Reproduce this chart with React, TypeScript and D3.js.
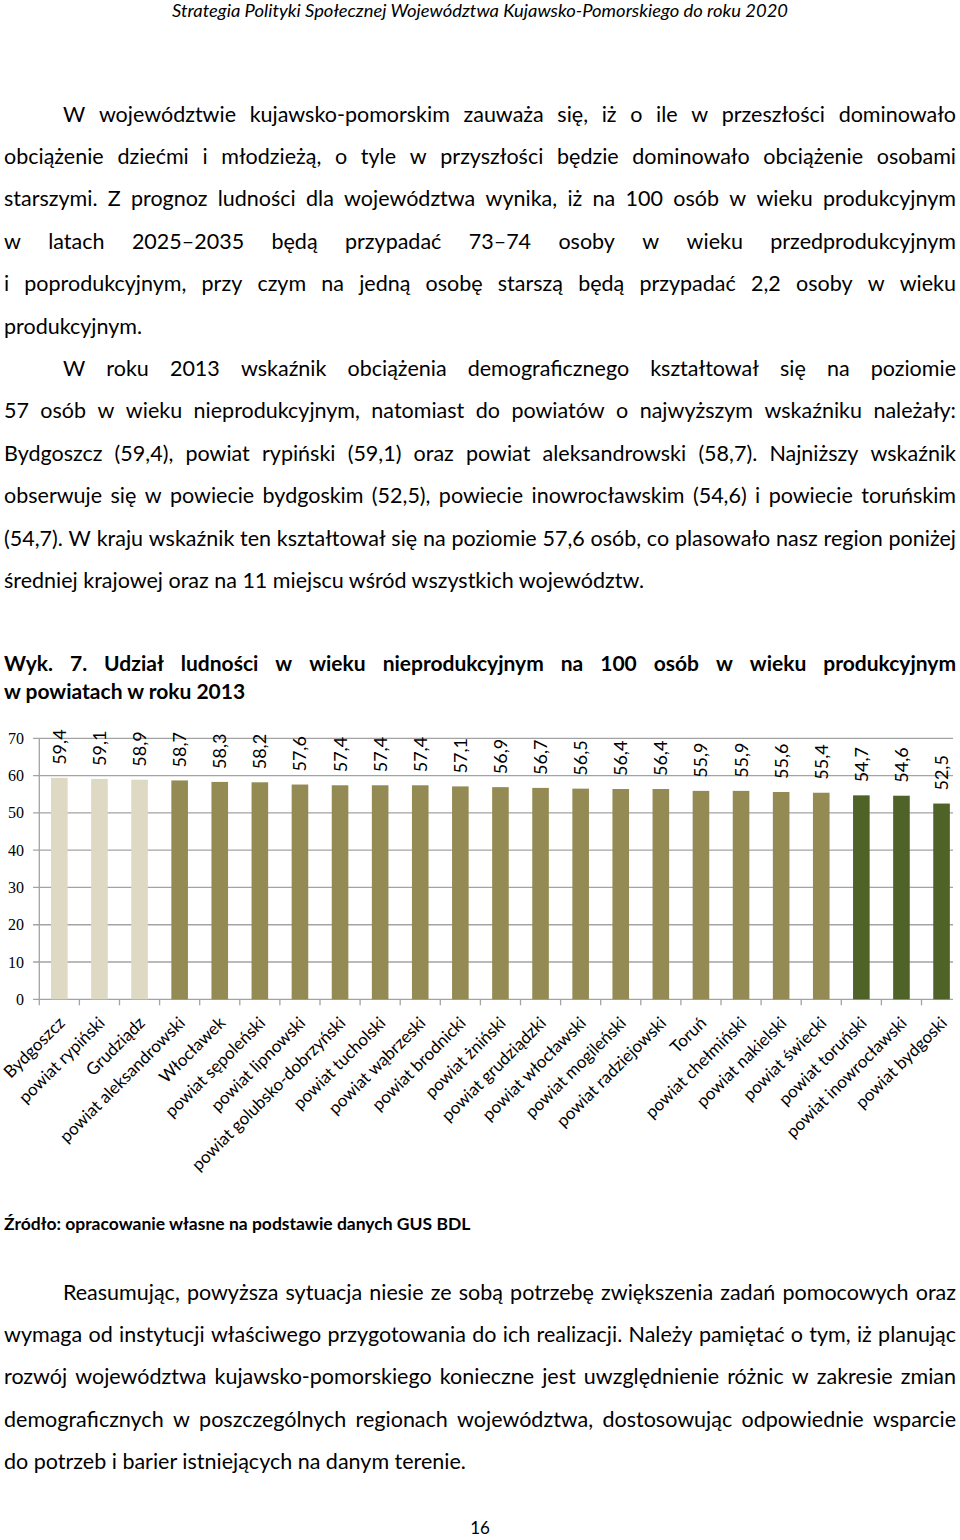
import React from 'react';
import * as d3 from 'd3';

const categories = [
  'Bydgoszcz', 'powiat rypiński', 'Grudziądz', 'powiat aleksandrowski', 'Włocławek',
  'powiat sępoleński', 'powiat lipnowski', 'powiat golubsko-dobrzyński', 'powiat tucholski',
  'powiat wąbrzeski', 'powiat brodnicki', 'powiat żniński', 'powiat grudziądzki',
  'powiat włocławski', 'powiat mogileński', 'powiat radziejowski', 'Toruń',
  'powiat chełmiński', 'powiat nakielski', 'powiat świecki', 'powiat toruński',
  'powiat inowrocławski', 'powiat bydgoski',
];
const values = [
  59.4, 59.1, 58.9, 58.7, 58.3, 58.2, 57.6, 57.4, 57.4, 57.4, 57.1, 56.9, 56.7,
  56.5, 56.4, 56.4, 55.9, 55.9, 55.6, 55.4, 54.7, 54.6, 52.5,
];
const groups = [
  'top', 'top', 'top', 'mid', 'mid', 'mid', 'mid', 'mid', 'mid', 'mid', 'mid', 'mid',
  'mid', 'mid', 'mid', 'mid', 'mid', 'mid', 'mid', 'mid', 'bottom', 'bottom', 'bottom',
];
const yTicks = [0, 10, 20, 30, 40, 50, 60, 70];

const headerText = 'Strategia Polityki Społecznej Województwa Kujawsko-Pomorskiego do roku 2020';
const para1 = [
  'W województwie kujawsko-pomorskim zauważa się, iż o ile w przeszłości dominowało',
  'obciążenie dziećmi i młodzieżą, o tyle w przyszłości będzie dominowało obciążenie osobami',
  'starszymi. Z prognoz ludności dla województwa wynika, iż na 100 osób w wieku produkcyjnym',
  'w latach 2025–2035 będą przypadać 73–74 osoby w wieku przedprodukcyjnym',
  'i poprodukcyjnym, przy czym na jedną osobę starszą będą przypadać 2,2 osoby w wieku',
  'produkcyjnym.',
];
const para2 = [
  'W roku 2013 wskaźnik obciążenia demograficznego kształtował się na poziomie',
  '57 osób w wieku nieprodukcyjnym, natomiast do powiatów o najwyższym wskaźniku należały:',
  'Bydgoszcz (59,4), powiat rypiński (59,1) oraz powiat aleksandrowski (58,7). Najniższy wskaźnik',
  'obserwuje się w powiecie bydgoskim (52,5), powiecie inowrocławskim (54,6) i powiecie toruńskim',
  '(54,7). W kraju wskaźnik ten kształtował się na poziomie 57,6 osób, co plasowało nasz region poniżej',
  'średniej krajowej oraz na 11 miejscu wśród wszystkich województw.',
];
const titleLines = [
  'Wyk. 7. Udział ludności w wieku nieprodukcyjnym na 100 osób w wieku produkcyjnym',
  'w powiatach w roku 2013',
];
const sourceText = 'Źródło: opracowanie własne na podstawie danych GUS BDL';
const para3 = [
  'Reasumując, powyższa sytuacja niesie ze sobą potrzebę zwiększenia zadań pomocowych oraz',
  'wymaga od instytucji właściwego przygotowania do ich realizacji. Należy pamiętać o tym, iż planując',
  'rozwój województwa kujawsko-pomorskiego konieczne jest uwzględnienie różnic w zakresie zmian',
  'demograficznych w poszczególnych regionach województwa, dostosowując odpowiednie wsparcie',
  'do potrzeb i barier istniejących na danym terenie.',
];
const pageNumber = '16';

const groupColors: Record<string, string> = {
  top: '#ddd9c3',
  mid: '#948a54',
  bottom: '#4f6228',
};

const FONT = 'Lato';
let measureCtx: CanvasRenderingContext2D | null = null;
function measure(text: string, size: number, weight: string) {
  if (!measureCtx) measureCtx = document.createElement('canvas').getContext('2d');
  measureCtx!.font = `${weight} ${size}px ${FONT}`;
  return measureCtx!.measureText(text).width;
}

function Line({ text, x0, x1, y, size, weight = 'normal', justify }: {
  text: string; x0: number; x1: number; y: number; size: number; weight?: string; justify: boolean;
}) {
  if (!justify) {
    return (
      <text x={x0} y={y} fontFamily={FONT} fontSize={size} fontWeight={weight} fill="#000">
        {text}
      </text>
    );
  }
  const words = text.split(' ');
  const widths = words.map((w) => measure(w, size, weight));
  const total = widths.reduce((a, b) => a + b, 0);
  const gap = (x1 - x0 - total) / Math.max(1, words.length - 1);
  let cur = x0;
  const xs = widths.map((w) => {
    const p = cur;
    cur += w + gap;
    return p;
  });
  return (
    <text y={y} fontFamily={FONT} fontSize={size} fontWeight={weight} fill="#000">
      {words.map((w, i) => (
        <tspan key={i} x={xs[i]}>{w + (i < words.length - 1 ? ' ' : '')}</tspan>
      ))}
    </text>
  );
}

function Paragraph({ lines, y0, step, size, weight = 'normal', indent = 63, lastJustified = false }: {
  lines: string[]; y0: number; step: number; size: number; weight?: string; indent?: number; lastJustified?: boolean;
}) {
  return (
    <g>
      {lines.map((t, i) => (
        <Line
          key={i}
          text={t}
          x0={i === 0 ? indent : 4}
          x1={956}
          y={y0 + i * step}
          size={size}
          weight={weight}
          justify={i < lines.length - 1 || lastJustified}
        />
      ))}
    </g>
  );
}

function Chart() {
  const left = 39.3;
  const step = 40.1;
  const gridRight = 953;
  const x = d3.scaleBand<string>()
    .domain(categories)
    .range([left, left + step * categories.length])
    .paddingInner(0.586)
    .paddingOuter(0.293);
  const y = d3.scaleLinear().domain([0, 70]).range([999.3, 738.3]);
  const bw = x.bandwidth();
  const boundaries = d3.range(categories.length + 1).map((k) => left + x.step() * k);
  const fmt = (v: number) => d3.format('.1f')(v).replace('.', ',');
  return (
    <g>
      {yTicks.map((t) => (
        <g key={t}>
          <line x1={33} x2={gridRight} y1={y(t)} y2={y(t)} stroke="#a3a3a3" strokeWidth={1.3} />
          <text x={24} y={y(t)} dy="0.35em" textAnchor="end" fontFamily="Liberation Serif" fontSize={16} fill="#000">
            {t}
          </text>
        </g>
      ))}
      <line x1={left} x2={left} y1={y(70)} y2={y(0)} stroke="#a3a3a3" strokeWidth={1.3} />
      {boundaries.filter((b) => b <= 958).map((b, i) => (
        <line key={i} x1={b} x2={b} y1={y(0)} y2={y(0) + 6} stroke="#a3a3a3" strokeWidth={1.3} />
      ))}
      {categories.map((c, i) => (
        <rect key={c} x={x(c)} y={y(values[i])} width={bw} height={y(0) - y(values[i])} fill={groupColors[groups[i]]} />
      ))}
      {categories.map((c, i) => {
        const cx = (x(c) as number) + bw / 2;
        return (
          <text
            key={'v' + c}
            transform={`translate(${cx + 6.5},${y(values[i]) - 13}) rotate(-90)`}
            fontFamily={FONT}
            fontSize={18}
            fill="#000"
          >
            {fmt(values[i])}
          </text>
        );
      })}
      {categories.map((c) => {
        const cx = (x(c) as number) + bw / 2;
        return (
          <text
            key={'l' + c}
            transform={`translate(${cx + 6.5},${1024}) rotate(-45)`}
            textAnchor="end"
            fontFamily={FONT}
            fontSize={17}
            fill="#000"
          >
            {c}
          </text>
        );
      })}
    </g>
  );
}

export default function App() {
  return (
    <svg
      width={960}
      height={1540}
      viewBox="0 0 960 1540"
      style={{ position: 'absolute', left: 0, top: 0, background: '#fff' }}
    >
      <rect x={0} y={0} width={960} height={1540} fill="#fff" />
      <text
        x={480}
        y={17}
        textAnchor="middle"
        fontFamily={FONT}
        fontStyle="italic"
        fontSize={16.5}
        textLength={616}
        lengthAdjust="spacingAndGlyphs"
        fill="#000"
      >
        {headerText}
      </text>
      <Paragraph lines={para1} y0={121.5} step={42.4} size={21.5} />
      <Paragraph lines={para2} y0={375.9} step={42.4} size={21.5} />
      <Paragraph lines={titleLines} y0={671} step={28} size={21} weight="bold" indent={4} />
      <Chart />
      <text x={4} y={1230} fontFamily={FONT} fontWeight="bold" fontSize={17.5} fill="#000">
        {sourceText}
      </text>
      <Paragraph lines={para3} y0={1299.5} step={42.4} size={21.5} />
      <text x={480} y={1534} textAnchor="middle" fontFamily={FONT} fontSize={17} fill="#000">
        {pageNumber}
      </text>
    </svg>
  );
}
